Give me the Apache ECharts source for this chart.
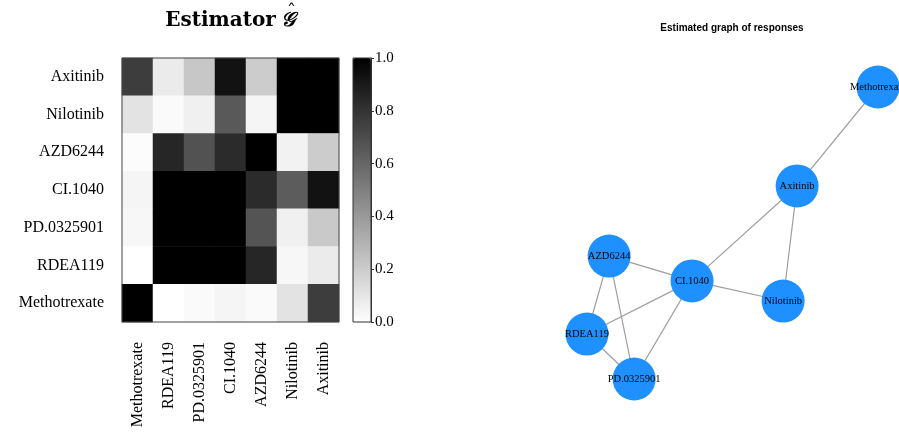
<!DOCTYPE html>
<html>
<head>
<meta charset="utf-8">
<script src="https://cdn.jsdelivr.net/npm/echarts@6/dist/echarts.min.js"></script>
<style>
  html, body { margin: 0; padding: 0; background: #fff; }
  #main { width: 899px; height: 435px; }
</style>
</head>
<body>
<div id="main"></div>
<script>
// drug order, used for both axes (y axis bottom -> top, x axis left -> right)
var drugs = ['Methotrexate', 'RDEA119', 'PD.0325901', 'CI.1040', 'AZD6244', 'Nilotinib', 'Axitinib'];

// estimated edge probabilities, rows listed top -> bottom as drawn
var rowNames = ['Axitinib', 'Nilotinib', 'AZD6244', 'CI.1040', 'PD.0325901', 'RDEA119', 'Methotrexate'];
var estimate = [
  [0.76, 0.08, 0.22, 0.93, 0.20, 1.00, 1.00],
  [0.11, 0.02, 0.06, 0.65, 0.04, 1.00, 1.00],
  [0.01, 0.85, 0.68, 0.83, 1.00, 0.05, 0.20],
  [0.04, 1.00, 1.00, 1.00, 0.83, 0.64, 0.93],
  [0.03, 1.00, 1.00, 1.00, 0.67, 0.06, 0.21],
  [0.00, 1.00, 1.00, 1.00, 0.85, 0.03, 0.08],
  [1.00, 0.00, 0.02, 0.04, 0.02, 0.11, 0.76]
];
var colorbarTicks = [0, 0.2, 0.4, 0.6, 0.8, 1.0];

// graph of responses: node layout coordinates and edges
var nodeNames = ['Methotrexate', 'Axitinib', 'AZD6244', 'CI.1040', 'Nilotinib', 'RDEA119', 'PD.0325901'];
var nodeX = [1.00, 0.722, 0.076, 0.361, 0.674, 0.000, 0.162];
var nodeY = [1.00, 0.661, 0.421, 0.336, 0.267, 0.154, 0.000];
var edges = [
  ['Methotrexate', 'Axitinib'],
  ['Axitinib', 'CI.1040'],
  ['Axitinib', 'Nilotinib'],
  ['AZD6244', 'CI.1040'],
  ['CI.1040', 'Nilotinib'],
  ['AZD6244', 'RDEA119'],
  ['AZD6244', 'PD.0325901'],
  ['RDEA119', 'CI.1040'],
  ['CI.1040', 'PD.0325901'],
  ['RDEA119', 'PD.0325901']
];

var heatData = [];
rowNames.forEach(function (r, i) {
  estimate[i].forEach(function (v, j) {
    heatData.push([j, drugs.indexOf(r), v]);
  });
});

var serif = 'Liberation Serif';

var chart = echarts.init(document.getElementById('main'));
chart.setOption({
  animation: false,
  title: [
    {
      text: '{a|Estimator} {g|\uD835\uDCA2}',
      left: 230, top: 11, textAlign: 'center', padding: 0,
      textStyle: {
        rich: {
          a: { fontFamily: 'DejaVu Serif', fontWeight: 'bold', fontSize: 20, color: '#000' },
          g: { fontFamily: 'DejaVu Serif', fontStyle: 'italic', fontSize: 20, color: '#000' }
        }
      }
    },
    {
      text: 'Estimated graph of responses',
      left: 732, top: 23, textAlign: 'center', padding: 0,
      textStyle: { fontFamily: 'Liberation Sans', fontWeight: 'bold', fontSize: 10, color: '#000' }
    }
  ],
  graphic: [
    // circumflex accent over the calligraphic G of the title
    { type: 'text', left: 287, top: 4, z: 20,
      style: { text: '\u02C6', font: '18px "DejaVu Serif"', fill: '#000' } }
  ],
  grid: [
    { left: 122, top: 58, width: 217, height: 264, show: true, z: 10,
      backgroundColor: 'transparent', borderColor: '#444', borderWidth: 1 },
    { left: 353, top: 58, width: 18, height: 264, show: true, z: 10,
      backgroundColor: 'transparent', borderColor: '#333', borderWidth: 1 },
    { left: 587, top: 87, width: 291, height: 292 }
  ],
  xAxis: [
    { type: 'category', gridIndex: 0, data: drugs,
      axisLine: { show: false }, axisTick: { show: false }, splitLine: { show: false },
      axisLabel: { rotate: 90, margin: 20, color: '#000', fontFamily: serif, fontSize: 16 } },
    { type: 'value', gridIndex: 1, show: false, min: 0, max: 1 },
    { type: 'value', gridIndex: 2, show: false, min: 0, max: 1 }
  ],
  yAxis: [
    { type: 'category', gridIndex: 0, data: drugs,
      axisLine: { show: false }, axisTick: { show: false }, splitLine: { show: false },
      axisLabel: { margin: 18, color: '#000', fontFamily: serif, fontSize: 16 } },
    { type: 'value', gridIndex: 1, position: 'right', min: 0, max: 1, interval: 0.2, z: 10,
      axisLine: { show: true, onZero: false, lineStyle: { color: '#333', width: 1 } },
      axisTick: { show: true, inside: false, length: 3, lineStyle: { color: '#333' } },
      splitLine: { show: false }, splitArea: { show: false },
      axisLabel: { margin: 4, color: '#000', fontFamily: serif, fontSize: 15,
        formatter: function (v) { return colorbarTicks.indexOf(v) >= 0 ? v.toFixed(1) : ''; } } },
    { type: 'value', gridIndex: 2, show: false, min: 0, max: 1 }
  ],
  visualMap: {
    type: 'continuous', min: 0, max: 1, seriesIndex: 0,
    calculable: false, orient: 'vertical', hoverLink: false,
    left: 353, top: 58, itemWidth: 18, itemHeight: 264, padding: 0,
    inRange: { color: ['#ffffff', '#000000'] },
    textStyle: { color: 'transparent' }
  },
  series: [
    {
      type: 'heatmap', xAxisIndex: 0, yAxisIndex: 0, data: heatData,
      emphasis: { disabled: true }
    },
    {
      type: 'scatter', xAxisIndex: 1, yAxisIndex: 1, data: [], silent: true
    },
    {
      type: 'graph', coordinateSystem: 'cartesian2d', xAxisIndex: 2, yAxisIndex: 2,
      symbol: 'circle', symbolSize: 43,
      itemStyle: { color: '#1e90ff' },
      label: { show: true, position: 'inside', color: '#000', fontFamily: serif, fontSize: 10.5 },
      lineStyle: { color: '#9e9e9e', width: 1.2, opacity: 1, curveness: 0 },
      emphasis: { disabled: true },
      data: nodeNames.map(function (n, i) { return { name: n, value: [nodeX[i], nodeY[i]] }; }),
      links: edges.map(function (e) { return { source: e[0], target: e[1] }; })
    }
  ]
});
</script>
</body>
</html>
